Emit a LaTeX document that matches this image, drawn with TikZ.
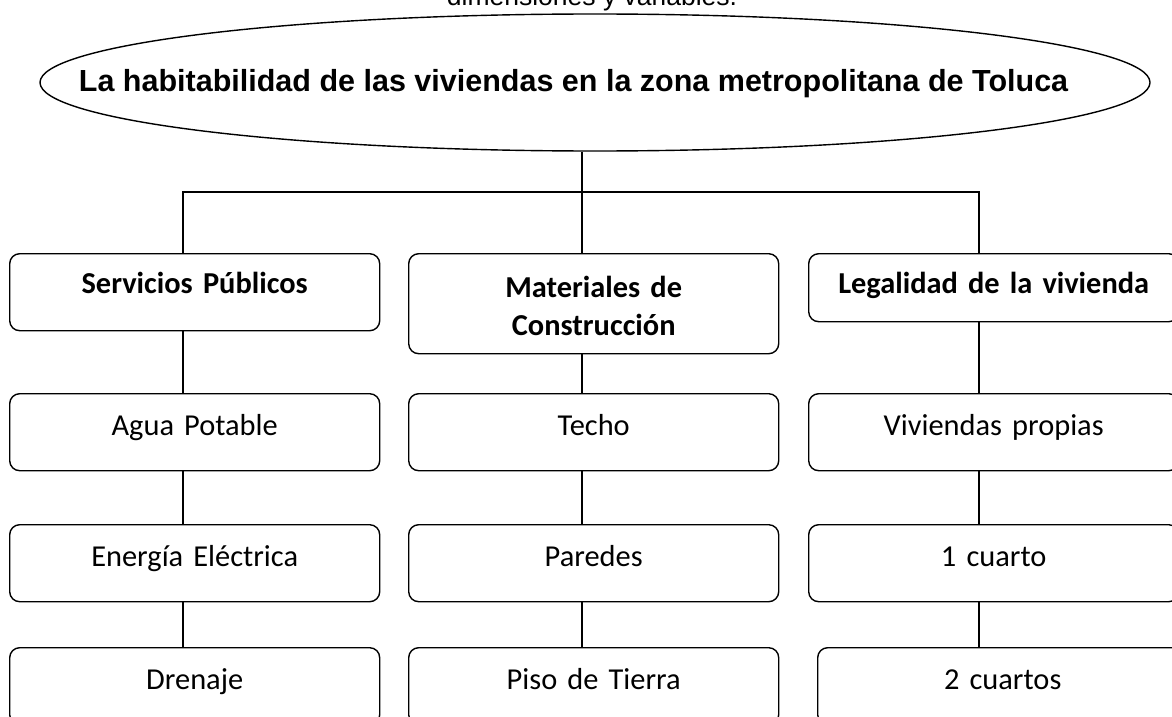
\documentclass[tikz,border=0pt]{standalone}
\usepackage{fontspec}
\setmainfont{Carlito}
\newfontfamily\arialfont{Liberation Sans}
\usetikzlibrary{shapes.geometric}

\tikzset{
  caja/.style={draw, rounded corners=10pt, line width=1.4pt, anchor=north west,
    text width=370pt, align=center, inner xsep=0pt, inner ysep=0pt,
    text height=42pt, text depth=35pt, font=\fontsize{30.4}{38}\selectfont},
  cabeza/.style={caja, font=\fontsize{30.4}{38}\selectfont\bfseries},
  linea/.style={line width=1.4pt}
}

\begin{document}
\begin{tikzpicture}[x=1pt, y=-1pt]
    \useasboundingbox (0,0) rectangle (1172,717);
    \clip (0,0) rectangle (1172,717);
    \node[anchor=base, font=\arialfont\fontsize{26.5}{30}\selectfont] (nota) at (592,6) {dimensiones y variables.};
    \node[draw, ellipse, line width=1.4pt, minimum width=1110pt, minimum height=137pt, inner sep=0pt] (tema) at (595,82.5) {};
    \node[anchor=base, font=\arialfont\bfseries\fontsize{30.5}{36}\selectfont] (titulo) at (573.5,91) {La habitabilidad de las viviendas en la zona metropolitana de Toluca};
    % dimensiones
    \node[cabeza, text height=40pt, text depth=37pt] (serv) at (9,253) {Servicios Públicos};
    \node[cabeza, text height=44pt, text depth=56pt] (mate) at (408,253) {Materiales de\\Construcción};
    \node[cabeza, text height=40pt, text depth=28pt] (lega) at (808,253) {Legalidad de la vivienda};
    % variables
    \node[caja] (agua) at (9,393) {Agua Potable};
    \node[caja] (ener) at (9,524) {Energía Eléctrica};
    \node[caja] (dren) at (9,647) {Drenaje};
    \node[caja] (tech) at (408,393) {Techo};
    \node[caja] (pare) at (408,524) {Paredes};
    \node[caja] (piso) at (408,647) {Piso de Tierra};
    \node[caja] (prop) at (808,393) {Viviendas propias};
    \node[caja] (uno) at (808,524) {1 cuarto};
    \node[caja] (dos) at (817,647) {2 cuartos};
    % conectores
    \coordinate (xa) at (183,192);
    \coordinate (xb) at (582,192);
    \coordinate (xc) at (979,192);
    \draw[linea] (tema.south -| xb) -- (mate.north -| xb);
    \draw[linea] (serv.north -| xa) -- (xa) -- (xc) -- (lega.north -| xc);
    \foreach \a/\b/\x in {serv/agua/xa, agua/ener/xa, ener/dren/xa,
                          mate/tech/xb, tech/pare/xb, pare/piso/xb,
                          lega/prop/xc, prop/uno/xc, uno/dos/xc}
        \draw[linea] (\a.south -| \x) -- (\b.north -| \x);
\end{tikzpicture}
\end{document}
